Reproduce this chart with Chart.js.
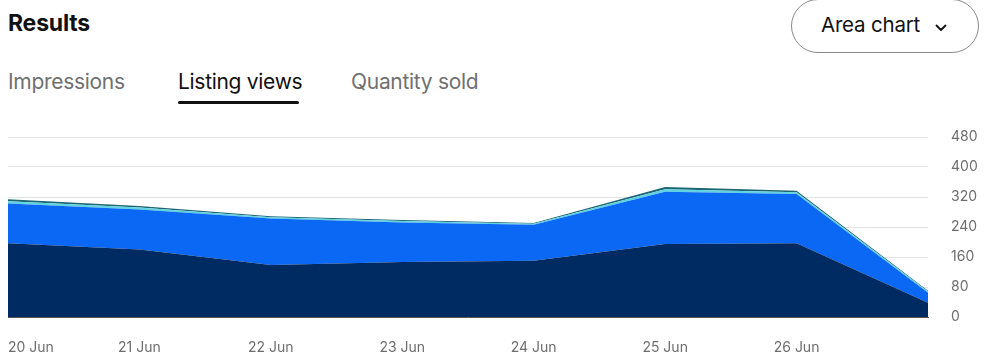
<!DOCTYPE html>
<html>
<head>
<meta charset="utf-8">
<script src="https://cdn.jsdelivr.net/npm/chart.js@4.4.1/dist/chart.umd.min.js"></script>
<style>
  html, body { margin: 0; padding: 0; background: #fff; }
  body { width: 998px; height: 360px; position: relative; overflow: hidden; font-family: Inter, "Open Sans", sans-serif; }
  .title { position: absolute; left: 8px; top: 9px; font-size: 23px; font-weight: 700; color: #111; letter-spacing: -0.2px; }
  .tab { position: absolute; top: 69px; font-size: 21px; color: #707070; letter-spacing: -0.3px; }
  .tab.active { color: #111; }
  .underline { position: absolute; left: 178px; top: 101px; width: 121px; height: 3px; background: #111; border-radius: 2px; }
  .btn { position: absolute; left: 791px; top: -1px; width: 188px; height: 54px; border: 1px solid #8a8a8a; border-radius: 27px; box-sizing: border-box; }
  .btn span { position: absolute; left: 29px; top: 12px; font-size: 20.5px; color: #111; letter-spacing: -0.2px; }
  .btn svg { position: absolute; left: 143px; top: 24px; }
  #wrap { position: absolute; left: 0; top: 120px; width: 998px; height: 240px; }
</style>
</head>
<body>
<div class="title">Results</div>
<div class="tab" style="left:8px">Impressions</div>
<div class="tab active" style="left:178px">Listing views</div>
<div class="tab" style="left:351px">Quantity sold</div>
<div class="underline"></div>
<div class="btn"><span>Area chart</span>
  <svg width="12" height="8" viewBox="0 0 12 8"><polyline points="1.5,1.5 6,6 10.5,1.5" fill="none" stroke="#111" stroke-width="1.8" stroke-linecap="round" stroke-linejoin="round"/></svg>
</div>
<div id="wrap"><canvas id="c"></canvas></div>
<script>
const categories = ["20 Jun", "21 Jun", "22 Jun", "23 Jun", "24 Jun", "25 Jun", "26 Jun", "27 Jun"];
const seriesNavy = [197, 180, 139, 147, 150, 195, 197, 38];
const seriesBlue = [106, 107, 124, 105, 96, 139, 131, 27];
const seriesCyan = [6, 5, 3, 4, 3, 7, 5, 3];
const seriesTeal = [5, 4, 3, 3, 2, 6, 4, 2];
const yTicks = [0, 80, 160, 240, 320, 400, 480];

const ds = (data, color, fill) => ({
  data, backgroundColor: color, borderColor: color, borderWidth: 0,
  fill, pointRadius: 0, pointHoverRadius: 0, tension: 0
});

new Chart(document.getElementById('c'), {
  type: 'line',
  data: {
    labels: categories,
    datasets: [
      ds(seriesNavy, '#002a62', 'origin'),
      ds(seriesBlue, '#0a68f5', '-1'),
      ds(seriesCyan, '#5fd3e2', '-1'),
      ds(seriesTeal, '#1d6775', '-1')
    ]
  },
  options: {
    responsive: true,
    maintainAspectRatio: false,
    animation: false,
    layout: { padding: { top: 17, left: 8, right: 0, bottom: 0 } },
    plugins: { legend: { display: false }, tooltip: { enabled: false } },
    scales: {
      x: {
        grid: { display: true, drawOnChartArea: false, drawTicks: true, tickLength: 22, tickColor: 'rgba(0,0,0,0)' },
        border: { display: true, color: '#555', width: 1 },
        offset: false,
        ticks: {
          autoSkip: false, maxRotation: 0, align: 'inner', padding: 0,
          color: '#6e6e6e', font: { family: 'Inter', size: 14 },
          callback: (v, i) => i === categories.length - 1 ? '' : categories[i]
        },
        afterFit: (a) => { a.height = 43; }
      },
      y: {
        position: 'right',
        stacked: true,
        min: 0, max: 480,
        afterBuildTicks: (a) => { a.ticks = yTicks.map(v => ({ value: v })); },
        grid: { color: '#e3e3e3', drawTicks: true, tickLength: 23, tickColor: 'rgba(0,0,0,0)', lineWidth: 1 },
        border: { display: false },
        ticks: { padding: 0, color: '#6e6e6e', font: { family: 'Inter', size: 14 } },
        afterFit: (a) => { a.width = 70; }
      }
    }
  }
});
</script>
</body>
</html>
